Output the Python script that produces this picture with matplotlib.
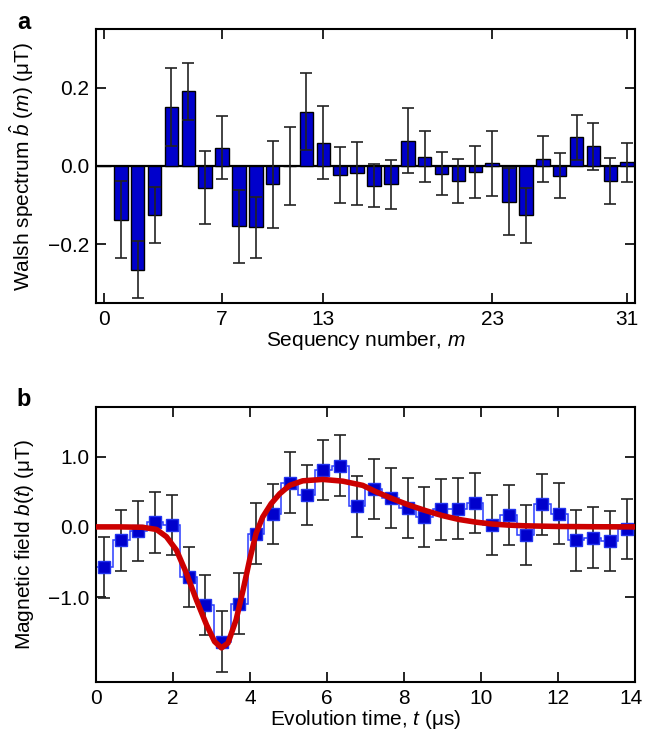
import numpy as np
import matplotlib
matplotlib.use('Agg')
import matplotlib.pyplot as plt
import matplotlib.transforms as mtransforms

plt.rcParams['font.family'] = ['Liberation Sans', 'DejaVu Sans']
plt.rcParams['mathtext.fontset'] = 'custom'
plt.rcParams['mathtext.rm'] = 'Liberation Sans'
plt.rcParams['mathtext.it'] = 'Liberation Sans:italic'
plt.rcParams['font.size'] = 15

# panel a: Walsh spectrum
seq_m = np.arange(32)
walsh_val = [0.0, -0.137, -0.265, -0.126, 0.151, 0.191, -0.055, 0.047,
             -0.154, -0.156, -0.047, 0.0, 0.139, 0.060, -0.023, -0.019,
             -0.051, -0.047, 0.064, 0.024, -0.020, -0.038, -0.015, 0.007,
             -0.091, -0.126, 0.018, -0.025, 0.073, 0.051, -0.039, 0.009]
walsh_err = [0.0, 0.099, 0.073, 0.072, 0.100, 0.073, 0.093, 0.080,
             0.093, 0.078, 0.112, 0.100, 0.098, 0.092, 0.071, 0.080,
             0.055, 0.062, 0.083, 0.066, 0.055, 0.057, 0.067, 0.083,
             0.086, 0.070, 0.058, 0.057, 0.057, 0.060, 0.059, 0.050]
seq_ticks = [0, 7, 13, 23, 31]

# panel b: reconstructed field
dt = 14 / 32
t_edges = np.arange(33) * dt
t_mid = (np.arange(32) + 0.5) * dt
field_val = [-0.575, -0.19, -0.06, 0.063, 0.026, -0.71, -1.11, -1.63,
             -1.09, -0.097, 0.18, 0.63, 0.45, 0.81, 0.87, 0.29,
             0.536, 0.41, 0.27, 0.14, 0.25, 0.26, 0.34, 0.026,
             0.167, -0.116, 0.32, 0.19, -0.19, -0.154, -0.197, -0.03]
field_err = [0.43] * 32

# fitted curve
fit_t = [0.0, 0.6, 1.2, 1.57, 1.83, 2.09, 2.35, 2.61, 2.87, 3.08, 3.26,
         3.43, 3.64, 3.82, 3.99, 4.16, 4.33, 4.55, 4.77, 5.03, 5.37, 5.89,
         6.41, 6.93, 7.27, 7.70, 8.13, 8.57, 9.0, 9.43, 9.86, 10.3, 10.73,
         11.16, 12.0, 13.0, 14.0]
fit_b = [0.0, 0.0, -0.005, -0.036, -0.14, -0.33, -0.66, -1.04, -1.39, -1.63, -1.72,
         -1.65, -1.32, -0.90, -0.47, -0.09, 0.14, 0.33, 0.47, 0.59, 0.655, 0.675,
         0.65, 0.59, 0.50, 0.40, 0.31, 0.23, 0.16, 0.105, 0.068, 0.04, 0.025,
         0.015, 0.006, 0.002, 0.0]

fig = plt.figure(figsize=(6.45, 7.34), dpi=100)
ax1 = fig.add_axes([0.1488, 0.5872, 0.8357, 0.3733])
ax2 = fig.add_axes([0.1488, 0.0713, 0.8357, 0.3738])

# ---- a ----
ax1.axhline(0, color='black', lw=1.6, zorder=1)
ax1.bar(seq_m, walsh_val, width=0.8, color='#0000cc', edgecolor='black',
        linewidth=1.0, zorder=2)
ax1.errorbar(seq_m[1:], walsh_val[1:], yerr=walsh_err[1:], fmt='none',
             ecolor='#222222', elinewidth=1.2, capsize=4, capthick=1.2, zorder=3)
ax1.set_xlim(-0.47, 31.46)
ax1.set_ylim(-0.35, 0.35)
ax1.set_xticks(seq_ticks)
ax1.set_yticks([-0.2, 0.0, 0.2])
ax1.set_yticklabels(['\u22120.2', '0.0', '0.2'])
ax1.set_xlabel('Sequency number, $m$', labelpad=0)
ax1.set_ylabel(r'Walsh spectrum $\hat{b}\ (m)$ (μT)')
ax1.yaxis.set_label_coords(-0.112, 0.5)

# ---- b ----
ax2.stairs(field_val, t_edges, color='#2a3cff', lw=1.1, baseline=None, zorder=2)
ax2.errorbar(t_mid, field_val, yerr=field_err, fmt='none', ecolor='#222222',
             elinewidth=1.2, capsize=4, capthick=1.2, zorder=3)
ax2.plot(t_mid, field_val, 's', ms=8, mfc='#0000cc', mec='#2233ee', mew=1,
         zorder=4)
ax2.plot(fit_t, fit_b, color='#cc0000', lw=4, solid_capstyle='round', zorder=5)
ax2.set_xlim(0, 14)
ax2.set_ylim(-2.2, 1.7)
ax2.set_xticks(np.arange(0, 15, 2))
ax2.set_yticks([-1.0, 0.0, 1.0])
ax2.set_yticklabels(['\u22121.0', '0.0', '1.0'])
ax2.set_xlabel('Evolution time, $t$ (μs)', labelpad=0)
ax2.set_ylabel('Magnetic field $b(t)$ (μT)')
ax2.yaxis.set_label_coords(-0.112, 0.5)

for ax in (ax1, ax2):
    ax.tick_params(direction='in', length=7, width=1.2, top=True, right=True,
                   pad=5)
    for s in ax.spines.values():
        s.set_linewidth(1.5)

# keep the last tick label inside the figure
last = ax2.get_xticklabels()[-1]
last.set_transform(last.get_transform() +
                   mtransforms.ScaledTranslation(-3 / 72, 0, fig.dpi_scale_trans))

fig.text(0.026, 0.985, 'a', fontsize=17, fontweight='bold', va='top')
fig.text(0.026, 0.472, 'b', fontsize=17, fontweight='bold', va='top')

fig.savefig('out.png', dpi=100)
